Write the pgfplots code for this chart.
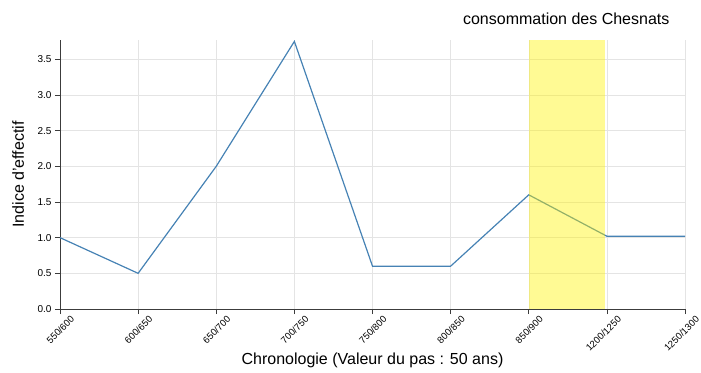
\documentclass[border=0pt]{standalone}
\usepackage{fontspec}
\setmainfont{Liberation Sans}
\usepackage{pgfplots}
\pgfplotsset{compat=1.18}
\definecolor{lineblue}{RGB}{70,130,180}
\definecolor{axisgray}{RGB}{60,60,60}
\definecolor{gridgray}{RGB}{228,228,228}
\begin{document}
\begin{tikzpicture}
\begin{axis}[
	scale only axis,
	width=625pt, height=269pt,
	xmin=0, xmax=8, ymin=0, ymax=3.77,
	axis x line=bottom, axis y line=left,
	axis line style={-, axisgray, line width=0.8pt},
	tick align=outside, major tick length=5pt,
	tick style={axisgray, line width=0.6pt},
	xtick={0,...,8},
	xticklabels={550/600,600/650,650/700,700/750,750/800,800/850,850/900,1200/1250,1250/1300},
	ytick={0,0.5,...,3.5},
	/pgf/number format/assume math mode=true,
	xticklabel style={font=\fontsize{9.5}{10}\selectfont, xshift=10pt, yshift=-1pt, rotate=45, anchor=north east, inner sep=0pt},
	yticklabel style={font=\fontsize{10}{11}\selectfont,
		/pgf/number format/fixed, /pgf/number format/fixed zerofill,
		/pgf/number format/precision=1},
	grid=major,
	major grid style={gridgray, line width=0.5pt},
	xlabel={Chronologie (Valeur du pas : 50 ans)},
	ylabel={Indice d'effectif},
	label style={font=\fontsize{16}{18}\selectfont},
	xlabel style={at={(axis description cs:0.5,0)}, anchor=center, yshift=-51pt},
	ylabel style={at={(axis description cs:-0.067,0.5)}, anchor=center},
	clip=false,
]
\addplot[lineblue, line width=1.2pt] coordinates {
	(0,1.0) (1,0.5) (2,2.0) (3,3.75) (4,0.6) (5,0.6) (6,1.6) (7,1.02) (8,1.02)};
\addplot[draw=none, fill=yellow, fill opacity=0.42] coordinates {
	(6,0) (6,3.77) (6.97,3.77) (6.97,0)} -- cycle;
\node[font=\fontsize{16}{18}\selectfont] at (axis cs:6.48,3.77) [yshift=21pt] {consommation des Chesnats};
\end{axis}
\pgfresetboundingbox
\useasboundingbox (-60pt,-63pt) rectangle (641pt,309pt);
\end{tikzpicture}
\end{document}
